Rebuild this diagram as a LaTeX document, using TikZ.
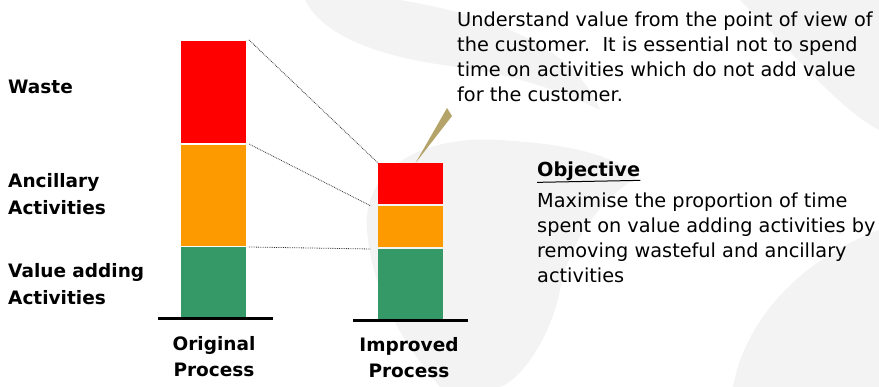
\documentclass[tikz,border=0pt]{standalone}
\usepackage{fontspec}
\setmainfont{DejaVu Sans}
\usepackage{xcolor}
\definecolor{wastered}{HTML}{FF0000}
\definecolor{ancorange}{HTML}{FD9A00}
\definecolor{valgreen}{HTML}{349967}
\definecolor{calloutgold}{HTML}{B5A46A}
\definecolor{watermark}{HTML}{F3F3F3}

\begin{document}
\begin{tikzpicture}[x=1pt,y=-1pt,
    seg/.style={inner sep=0pt,outer sep=0pt,minimum width=65pt,anchor=north west},
    label/.style={inner sep=0pt,font=\fontsize{18.5}{27}\selectfont\bfseries,align=left,anchor=base west},
    caption/.style={inner sep=0pt,font=\fontsize{18.5}{26}\selectfont\bfseries,align=center,anchor=base},
    para/.style={inner sep=0pt,font=\fontsize{19.3}{25.3}\selectfont,align=left,anchor=base west},
    guide/.style={densely dotted,gray!40!black,line width=0.8pt}]
    \useasboundingbox (0,0) rectangle (879,387);

    % faint background swooshes
    \fill[watermark] (305,0) .. controls (325,40) and (390,58) .. (450,66)
      .. controls (510,74) and (560,90) .. (600,110)
      .. controls (580,60) and (520,20) .. (400,0) -- cycle;
    \fill[watermark] (367,230) .. controls (362,170) and (420,135) .. (500,140)
      .. controls (560,144) and (600,150) .. (640,175)
      .. controls (600,200) and (570,240) .. (560,290)
      .. controls (550,340) and (520,380) .. (500,387) -- (440,387)
      .. controls (400,340) and (372,290) .. (367,230) -- cycle;
    \fill[watermark] (740,0) .. controls (790,50) and (840,110) .. (879,130) -- (879,0) -- cycle;
    \fill[watermark] (733,387) .. controls (745,320) and (800,260) .. (879,230) -- (879,387) -- cycle;

    % bars
    \node[seg,fill=wastered,minimum height=102pt] (origwaste) at (181,41) {};
    \node[seg,fill=ancorange,minimum height=101pt] (origanc) at (181,145) {};
    \node[seg,fill=valgreen,minimum height=71pt] (origval) at (181,247) {};
    \node[seg,fill=wastered,minimum height=41pt] (impwaste) at (378,163) {};
    \node[seg,fill=ancorange,minimum height=41pt] (impanc) at (378,206) {};
    \node[seg,fill=valgreen,minimum height=70pt] (impval) at (378,249) {};

    \draw[line width=3.5pt] (158,318.5) -- (273,318.5);
    \draw[line width=3.5pt] (353,320.5) -- (468,320.5);

    % dotted guides
    \draw[guide] ([xshift=3pt,yshift=1pt]origwaste.north east) -- (impwaste.north west);
    \draw[guide] ([xshift=3pt,yshift=1pt]origanc.north east) -- ([xshift=-7pt]impanc.north west);
    \draw[guide] ([xshift=3pt]origval.north east) -- ([xshift=-7pt]impval.north west);

    % callout wedge
    \coordinate (wedgetop) at (447,108);
    \fill[calloutgold] ([xshift=5pt]impwaste.north) -- (wedgetop) -- ++(5,8) -- cycle;

    % labels (multi-line nodes sit on their last baseline)
    \node[label] (waste) at (8,94) {Waste};
    \node[label] (ancillary) at (8,215) {Ancillary\\Activities};
    \node[label] (valueadd) at (8,305) {Value adding\\Activities};
    \node[caption] (original) at (214,377) {Original\\Process};
    \node[caption] (improved) at (409,378) {Improved\\Process};

    % text
    \node[para] (understand) at (457,102) {Understand value from the point of view of\\the customer.\ \ It is essential not to spend\\time on activities which do not add value\\for the customer.};
    \node[para,font=\fontsize{19.3}{25.3}\selectfont\bfseries] (objective) at (537,177) {Objective};
    \draw[line width=1pt] (objective.south west) ++(0,1) -- ([yshift=1pt]objective.south east);
    \node[para] (objtext) at (537,283) {Maximise the proportion of time\\spent on value adding activities by\\removing wasteful and ancillary\\activities};
\end{tikzpicture}
\end{document}
